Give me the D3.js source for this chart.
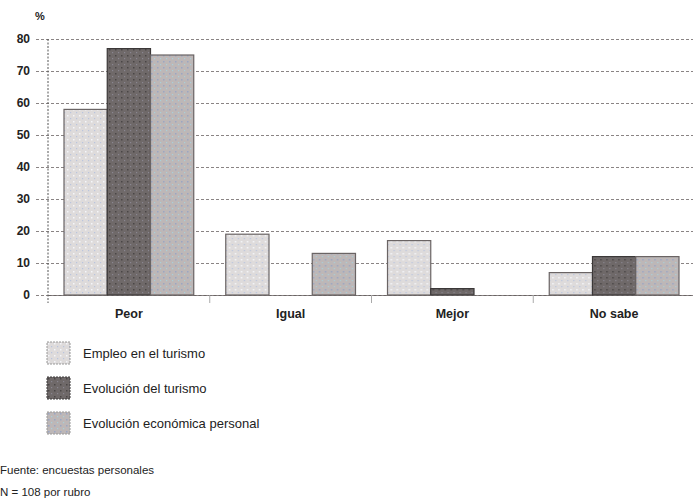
<!DOCTYPE html>
<html>
<head>
<meta charset="utf-8">
<script src="https://cdn.jsdelivr.net/npm/d3@7"></script>
<style>
  body { margin: 0; background: #fff; }
  svg { display: block; font-family: "Liberation Sans", Arial, sans-serif; }
</style>
</head>
<body>
<div id="chart"></div>
<script>
// data
const categories = ["Peor", "Igual", "Mejor", "No sabe"];
const seriesNames = ["Empleo en el turismo", "Evolución del turismo", "Evolución económica personal"];
const empleo = [58, 19, 17, 7];
const evolTurismo = [77, 0, 2, 12];
const evolPersonal = [75, 13, 0, 12];
const yTicks = [0, 10, 20, 30, 40, 50, 60, 70, 80];
const notes = ["Fuente: encuestas personales", "N = 108 por rubro"];

const values = [empleo, evolTurismo, evolPersonal];

const width = 693;
const height = 499;
const marginTop = 39;
const marginLeft = 48;
const marginRight = 0;
const plotBottom = 295;

const svg = d3.select("#chart").append("svg")
    .attr("width", width)
    .attr("height", height);

// dotted fill patterns for the bars
const fills = [
  {bg: "#dedbdb", dot: "#f4f6fa", dot2: "#b9c4de"},
  {bg: "#6f6969", dot: "#4a4646", dot2: "#8a8690"},
  {bg: "#bdb7b7", dot: "#9aa6c4", dot2: "#a9d0da"}
];
const defs = svg.append("defs");
fills.forEach((f, i) => {
  const p = defs.append("pattern")
      .attr("id", "pat" + i)
      .attr("patternUnits", "userSpaceOnUse")
      .attr("width", 6).attr("height", 6);
  p.append("rect").attr("width", 6).attr("height", 6).attr("fill", f.bg);
  p.append("rect").attr("x", 1).attr("y", 1).attr("width", 1.5).attr("height", 1.5).attr("fill", f.dot);
  p.append("rect").attr("x", 4).attr("y", 4).attr("width", 1.2).attr("height", 1.2).attr("fill", f.dot2);
});

const x = d3.scaleBand()
    .domain(categories)
    .range([marginLeft, width - marginRight + 2])
    .paddingInner(0)
    .paddingOuter(0);

const xs = d3.scaleBand()
    .domain(d3.range(seriesNames.length))
    .range([0, x.bandwidth()])
    .paddingOuter(0.37)
    .paddingInner(0);

const y = d3.scaleLinear()
    .domain([0, 80])
    .range([plotBottom, marginTop]);

// gridlines + y labels
const yAxis = svg.append("g")
    .attr("transform", `translate(${marginLeft},0)`)
    .call(d3.axisLeft(y).tickValues(yTicks).tickSize(12).tickPadding(6))
    .call(g => g.select(".domain").remove());
yAxis.selectAll(".tick line")
    .attr("stroke", "#8a8484")
    .attr("stroke-dasharray", "3,2")
    .attr("x1", -12)
    .attr("x2", width - marginLeft);
yAxis.selectAll(".tick text")
    .attr("font-size", 12)
    .attr("font-weight", "bold")
    .attr("fill", "#222");

svg.append("text")
    .attr("x", 40).attr("y", 20)
    .attr("text-anchor", "middle")
    .attr("font-size", 11)
    .attr("font-weight", "bold")
    .attr("fill", "#222")
    .text("%");

// bars
const groups = svg.append("g")
  .selectAll("g")
  .data(categories)
  .join("g")
    .attr("transform", d => `translate(${x(d)},0)`);

groups.selectAll("rect")
  .data((c, ci) => values.map((v, si) => ({si, v: v[ci]})))
  .join("rect")
    .filter(d => d.v > 0)
    .attr("x", d => xs(d.si))
    .attr("y", d => y(d.v))
    .attr("width", xs.bandwidth())
    .attr("height", d => y(0) - y(d.v))
    .attr("fill", d => `url(#pat${d.si})`)
    .attr("stroke", d => d.si === 1 ? "#3b3838" : "#6a6464")
    .attr("stroke-width", 1.2);

// x axis
const xAxis = svg.append("g")
    .attr("transform", `translate(0,${plotBottom})`)
    .call(d3.axisBottom(x).tickSize(0).tickPadding(14));
xAxis.select(".domain")
    .attr("stroke", "#6a6464")
    .attr("stroke-dasharray", "3,2");
xAxis.selectAll(".tick text")
    .attr("font-size", 12.5)
    .attr("font-weight", "bold")
    .attr("fill", "#222");

// separator ticks between categories
svg.append("g")
  .selectAll("line")
  .data(categories.slice(1))
  .join("line")
    .attr("x1", d => x(d)).attr("x2", d => x(d))
    .attr("y1", plotBottom).attr("y2", plotBottom + 8)
    .attr("stroke", "#aaa");

// y axis line (dotted)
svg.append("line")
    .attr("x1", marginLeft).attr("x2", marginLeft)
    .attr("y1", marginTop).attr("y2", plotBottom + 8)
    .attr("stroke", "#555")
    .attr("stroke-dasharray", "2,1.5");

// legend
const legend = svg.append("g")
  .selectAll("g")
  .data(seriesNames)
  .join("g")
    .attr("transform", (d, i) => `translate(47,${342 + i * 35})`);
legend.append("rect")
    .attr("width", 23).attr("height", 22)
    .attr("fill", (d, i) => `url(#pat${i})`)
    .attr("stroke", (d, i) => i === 1 ? "#3b3838" : "#999")
    .attr("stroke-dasharray", "2,1");
legend.append("text")
    .attr("x", 36).attr("y", 16)
    .attr("font-size", 13)
    .attr("fill", "#222")
    .text(d => d);

// footnotes
svg.append("g")
  .selectAll("text")
  .data(notes)
  .join("text")
    .attr("x", 0)
    .attr("y", (d, i) => 474 + i * 22)
    .attr("font-size", 11.5)
    .attr("fill", "#222")
    .text(d => d);
</script>
</body>
</html>
